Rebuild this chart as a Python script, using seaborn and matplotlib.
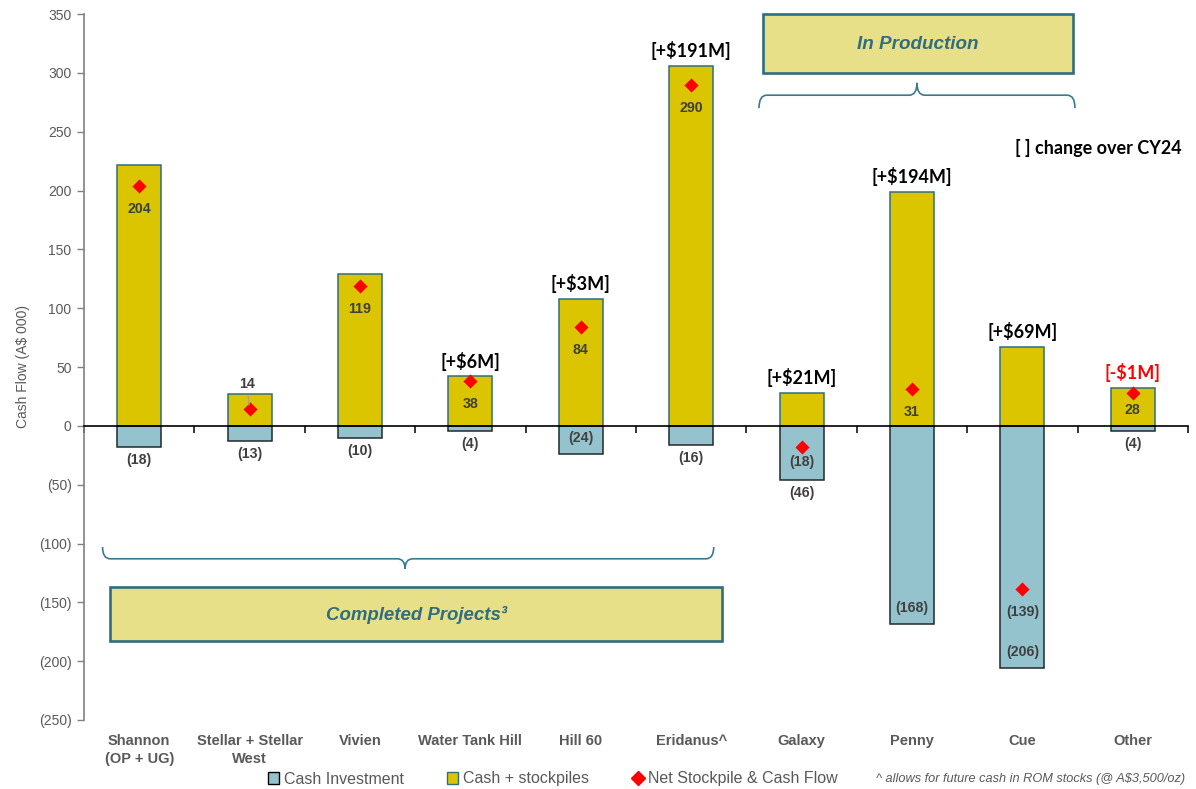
import numpy as np
import pandas as pd
import matplotlib
matplotlib.use("Agg")
import matplotlib.pyplot as plt
import matplotlib.ticker as mticker
from matplotlib.patches import Patch, Rectangle, PathPatch
from matplotlib.lines import Line2D
from matplotlib.path import Path
import seaborn as sns

# ---- data (A$ 000) ----
projects = ["Shannon\n(OP + UG)", "Stellar + Stellar\nWest", "Vivien", "Water Tank Hill",
            "Hill 60", "Eridanus^", "Galaxy", "Penny", "Cue", "Other"]
cash_stockpiles = [222, 27, 129, 42, 108, 306, 28, 199, 67, 32]
cash_investment = [-18, -13, -10, -4, -24, -16, -46, -168, -206, -4]
net_cash_flow = [204, 14, 119, 38, 84, 290, -18, 31, -139, 28]
change_cy24 = ["", "", "", "[+$6M]", "[+$3M]", "[+$191M]", "[+$21M]", "[+$194M]", "[+$69M]", "[-$1M]"]

# ---- styling ----
YELLOW = "#DBC400"
BLUE = "#94C3CD"
TEAL = "#2E6E80"
BOX_FILL = "#E8E089"
TEXT_DARK = "#404040"
TEXT_GREY = "#595959"
REGULAR = ["Liberation Sans", "DejaVu Sans"]
CALLOUT = ["Lato", "DejaVu Sans"]

sns.set_theme(style="white")
plt.rcParams["font.family"] = REGULAR

fig = plt.figure(figsize=(11.96, 7.89), dpi=100)
ax = fig.add_axes([84 / 1196, 1 - 720 / 789, (1188 - 84) / 1196, (720 - 14) / 789])

df = pd.DataFrame({"project": projects, "stock": cash_stockpiles,
                   "invest": cash_investment, "net": net_cash_flow})
pos = np.arange(len(projects))

sns.barplot(data=df, x="project", y="stock", color=YELLOW, saturation=1, width=0.4,
            edgecolor=TEAL, linewidth=1.1, errorbar=None, ax=ax, zorder=2)
sns.barplot(data=df, x="project", y="invest", color=BLUE, saturation=1, width=0.4,
            edgecolor="#1E2A2E", linewidth=1.1, errorbar=None, ax=ax, zorder=2)
sns.scatterplot(x=pos, y=df["net"], marker="D", s=52, color="#FF0000",
                edgecolor="#FF0000", linewidth=0, ax=ax, zorder=5, legend=False)

ax.set_xlim(-0.5, len(projects) - 0.5)
ax.set_ylim(-250, 350)
ax.set_yticks(np.arange(-250, 351, 50))
ax.yaxis.set_major_formatter(mticker.FuncFormatter(
    lambda v, p: f"({abs(int(v))})" if v < 0 else f"{int(v)}"))
ax.tick_params(axis="y", left=True, length=5, width=1, color="#808080",
               labelcolor=TEXT_GREY, labelsize=10, pad=4)
ax.set_ylabel("Cash Flow (A$ 000)", fontsize=10, color=TEXT_GREY)
ax.yaxis.set_label_coords(-0.049, 0.5)
ax.set_xlabel("")

for s in ("top", "right"):
    ax.spines[s].set_visible(False)
ax.spines["left"].set_color("#808080")
ax.spines["left"].set_linewidth(1.2)
# zero line with category separators
ax.spines["bottom"].set_position(("data", 0))
ax.spines["bottom"].set_color("black")
ax.spines["bottom"].set_linewidth(1.2)
ax.spines["bottom"].set_zorder(4)
ax.set_xticks(pos)
ax.set_xticks(np.arange(-0.5, len(projects), 1), minor=True)
ax.tick_params(axis="x", which="major", bottom=False, labelbottom=False)
ax.tick_params(axis="x", which="minor", bottom=True, length=5, width=1.1,
               color="black", direction="out")

# category labels along the bottom of the plot area
sec = ax.secondary_xaxis(0)
sec.set_xticks(pos, labels=projects)
sec.spines["bottom"].set_visible(False)
sec.tick_params(axis="x", length=0, pad=10, labelsize=10.5, labelcolor=TEXT_GREY)
for lbl in sec.get_xticklabels():
    lbl.set_fontweight("bold")
    lbl.set_linespacing(1.4)

LBL = dict(fontsize=10.2, fontweight="bold", color=TEXT_DARK, zorder=6)

# net value labels next to the diamonds
net_offset = [-16.5, 18, -16.5, -16.5, -16.5, -16.5, -11, -16.5, -16.5, -12]
for i, v in enumerate(net_cash_flow):
    txt = f"({abs(v)})" if v < 0 else f"{v}"
    if net_offset[i] > 0:
        ax.annotate(txt, xy=(i, v), xytext=(-2, net_offset[i]), textcoords="offset points",
                    ha="center", va="center", **LBL,
                    arrowprops=dict(arrowstyle="-", color="#A0A0A0", lw=0.8,
                                    shrinkA=1, shrinkB=3))
    else:
        ax.annotate(txt, xy=(i, v), xytext=(0, net_offset[i]), textcoords="offset points",
                    ha="center", va="center", **LBL)

# cash investment labels: inside the bar end for deep bars, below otherwise
inside_end = {4, 7, 8}
for i, v in enumerate(cash_investment):
    dy = 11.5 if i in inside_end else -9.5
    ax.annotate(f"({abs(v)})", xy=(i, v), xytext=(0, dy), textcoords="offset points",
                ha="center", va="center", **LBL)

# change over CY24 callouts
for i, (top, lab) in enumerate(zip(cash_stockpiles, change_cy24)):
    if not lab:
        continue
    col = "#FF0000" if lab.startswith("[-") else "black"
    ax.annotate(lab, xy=(i, top), xytext=(0, 11), textcoords="offset points",
                ha="center", va="center", fontsize=13, fontweight="bold",
                color=col, family=CALLOUT, zorder=6)

ax.text(7.933, 236, "[ ] change over CY24", ha="left", va="center", fontsize=13,
        fontweight="bold", color="black", family=CALLOUT)


def brace(x0, x1, xm, y_line, y_end, y_tip, rx=0.07):
    verts = [(x0, y_end), (x0, y_line), (x0 + rx, y_line),
             (xm - rx, y_line), (xm, y_line), (xm, y_tip),
             (xm, y_line), (xm + rx, y_line),
             (x1 - rx, y_line), (x1, y_line), (x1, y_end)]
    codes = [Path.MOVETO, Path.CURVE3, Path.CURVE3,
             Path.LINETO, Path.CURVE3, Path.CURVE3,
             Path.CURVE3, Path.CURVE3,
             Path.LINETO, Path.CURVE3, Path.CURVE3]
    return PathPatch(Path(verts, codes), fill=False, edgecolor="#3B7A8C", lw=1.2,
                     clip_on=False, zorder=3)


# group boxes
ax.add_patch(Rectangle((5.650, 300), 2.808, 50, facecolor=BOX_FILL, edgecolor=TEAL,
                       lw=1.9, clip_on=False, zorder=3))
ax.text(7.054, 324, "In Production", ha="center", va="center", fontsize=13.6,
        fontweight="bold", style="italic", color=TEAL, zorder=4)
ax.add_patch(brace(5.614, 8.476, 7.045, 281, 270, 291.5))

ax.add_patch(Rectangle((-0.264, -183), 5.543, 46, facecolor=BOX_FILL, edgecolor=TEAL,
                       lw=1.9, clip_on=False, zorder=3))
ax.text(2.508, -161, "Completed Projects³", ha="center", va="center", fontsize=13.4,
        fontweight="bold", style="italic", color=TEAL, zorder=4)
ax.add_patch(brace(-0.332, 5.204, 2.408, -113, -103, -121.7))

# legend
handles = [Patch(facecolor=BLUE, edgecolor="black", lw=1.0),
           Patch(facecolor=YELLOW, edgecolor=TEAL, lw=1.0),
           Line2D([], [], marker="D", color="#FF0000", ls="none", markersize=7)]
labels = ["Cash Investment", "Cash + stockpiles", "Net Stockpile & Cash Flow"]
fig.legend(handles, labels, loc="center left", bbox_to_anchor=(268 / 1196, 1 - 779 / 789),
           ncol=3, frameon=False, fontsize=11.5, labelcolor=TEXT_GREY,
           handlelength=0.7, handleheight=0.7, handletextpad=0.3, columnspacing=2.7,
           borderpad=0, borderaxespad=0)
fig.text(876 / 1196, 1 - 779 / 789, "^ allows for future cash in ROM stocks (@ A$3,500/oz)",
         ha="left", va="center", fontsize=9.2, style="italic", color=TEXT_GREY)

fig.savefig("out.png", dpi=100)
